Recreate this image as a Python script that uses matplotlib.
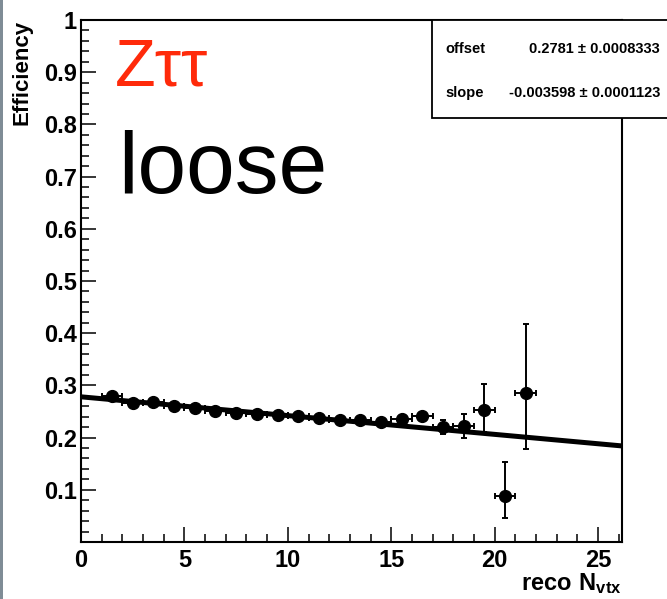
import numpy as np
import matplotlib.pyplot as plt
from matplotlib.patches import Rectangle
from matplotlib.ticker import MultipleLocator, FixedLocator, FixedFormatter

plt.rcParams['font.family'] = ['Liberation Sans', 'DejaVu Sans']
plt.rcParams['mathtext.fontset'] = 'custom'
plt.rcParams['mathtext.rm'] = 'Liberation Sans:bold'
plt.rcParams['mathtext.bf'] = 'Liberation Sans:bold'

# dedomena apo to diagramma
nvtx = [1.5, 2.5, 3.5, 4.5, 5.5, 6.5, 7.5, 8.5, 9.5, 10.5, 11.5,
        12.5, 13.5, 14.5, 15.5, 16.5, 17.5, 18.5, 19.5, 20.5, 21.5]
eff = [0.2795, 0.2667, 0.2686, 0.2600, 0.2570, 0.2506, 0.2474, 0.2460,
       0.2440, 0.2420, 0.2380, 0.2346, 0.2333, 0.2295, 0.2365, 0.2410,
       0.2205, 0.2215, 0.2526, 0.0872, 0.2860]
err_up = [0.004, 0.004, 0.004, 0.004, 0.004, 0.004, 0.004, 0.004, 0.004,
          0.004, 0.004, 0.004, 0.005, 0.005, 0.006, 0.007, 0.013, 0.024,
          0.050, 0.066, 0.132]
err_dn = [0.004, 0.004, 0.004, 0.004, 0.004, 0.004, 0.004, 0.004, 0.004,
          0.004, 0.004, 0.004, 0.005, 0.005, 0.006, 0.007, 0.013, 0.023,
          0.041, 0.042, 0.108]
bin_half = [0.5] * len(nvtx)

offset = 0.2781
offset_err = 0.0008333
slope = -0.003598
slope_err = 0.0001123

x_max = 26.15
y_ticks = [0.0, 0.1, 0.2, 0.3, 0.4, 0.5, 0.6, 0.7, 0.8, 0.9, 1.0]
y_labels = ['', '0.1', '0.2', '0.3', '0.4', '0.5', '0.6', '0.7', '0.8', '0.9', '1']

fig = plt.figure(figsize=(6.67, 5.99), dpi=100)
ax = fig.add_axes([0.1214, 0.0952, 0.9325 - 0.1214, 0.9666 - 0.0952])

# grammi tou fit
xf = np.array([0.0, x_max])
ax.plot(xf, offset + slope * xf, color='black', lw=3.6, solid_capstyle='butt', zorder=2)

ax.errorbar(nvtx, eff, xerr=bin_half, yerr=[err_dn, err_up], fmt='o', color='black',
            ms=8.5, elinewidth=1.4, capsize=2.5, capthick=1.4, zorder=3)

ax.set_xlim(0, x_max)
ax.set_ylim(0, 1)

ax.xaxis.set_major_locator(MultipleLocator(5))
ax.xaxis.set_minor_locator(MultipleLocator(1))
ax.yaxis.set_major_locator(FixedLocator(y_ticks))
ax.yaxis.set_major_formatter(FixedFormatter(y_labels))
ax.yaxis.set_minor_locator(MultipleLocator(0.02))

ax.tick_params(which='both', direction='in', top=False, right=False, width=1.1)
ax.tick_params(which='major', length=11)
ax.tick_params(which='minor', length=5.5)
ax.tick_params(axis='y', which='major', pad=3)
ax.tick_params(axis='x', which='major', pad=5)
for lab in ax.get_xticklabels() + ax.get_yticklabels():
    lab.set_fontsize(17)
    lab.set_fontweight('bold')
for sp in ax.spines.values():
    sp.set_linewidth(1.5)

ax.set_ylabel('Efficiency', fontsize=16, fontweight='bold', loc='top')
ax.yaxis.set_label_coords(-0.0887, 1.0)
ax.set_xlabel(r'$\mathbf{reco\ N_{vtx}}$', fontsize=17, loc='right')
ax.xaxis.set_label_coords(1.0, -0.092)
ax.xaxis.label.set_va('baseline')

ax.text(0.063, 0.875, 'Z\u03c4\u03c4', transform=ax.transAxes, color='#ff2a0a',
        fontsize=48, va='baseline', ha='left')
ax.text(0.068, 0.668, 'loose', transform=ax.transAxes, color='black',
        fontsize=63, va='baseline', ha='left')

# kouti me ta apotelesmata tou fit
box = Rectangle((432 / 667, 1 - 118 / 599), 0.5, (118 - 20) / 599,
                transform=fig.transFigure, facecolor='white', edgecolor='black',
                lw=1.3, zorder=5)
fig.patches.append(box)
fig.text(445 / 667, 1 - 53 / 599, 'offset', fontsize=10.5, fontweight='bold',
         va='baseline', ha='left', zorder=6)
fig.text(660 / 667, 1 - 53 / 599, f'{offset:.4f} \u00b1 {offset_err:.7f}',
         fontsize=10.5, fontweight='bold', va='baseline', ha='right', zorder=6)
fig.text(445 / 667, 1 - 97 / 599, 'slope', fontsize=10.5, fontweight='bold',
         va='baseline', ha='left', zorder=6)
fig.text(660 / 667, 1 - 97 / 599, f'{slope:.6f} \u00b1 {slope_err:.7f}',
         fontsize=10.5, fontweight='bold', va='baseline', ha='right', zorder=6)

# lepti gkri lorida aristera
fig.patches.append(Rectangle((0, 0), 3 / 667, 1, transform=fig.transFigure,
                             facecolor='#7f8c96', edgecolor='none', zorder=5))

fig.savefig('out.png', dpi=100)
